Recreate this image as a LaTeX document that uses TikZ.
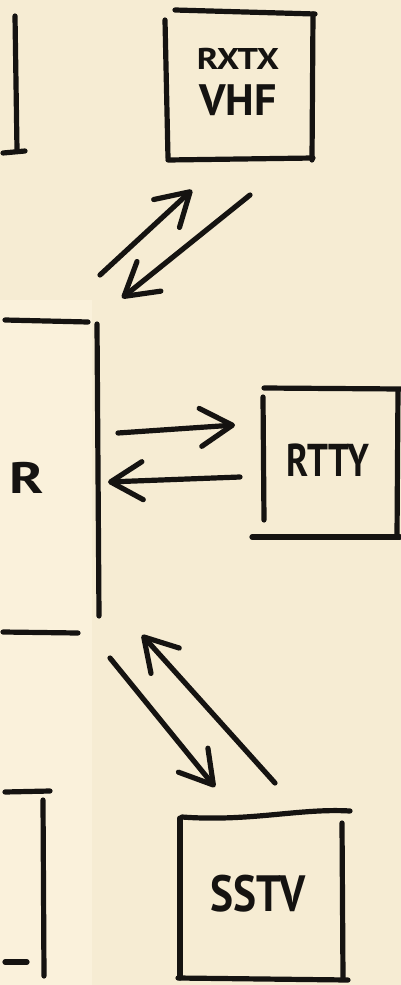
\documentclass[tikz,border=0pt]{standalone}
\usepackage{fontspec}
\setmainfont{PT Sans}
\usetikzlibrary{arrows.meta}
\definecolor{paper}{HTML}{F6ECD3}
\definecolor{paperlight}{HTML}{FAF1DB}
\definecolor{ink}{HTML}{151311}
\tikzset{
  ink/.style={draw=ink, line width=5.2pt, line cap=round, line join=round},
  arr/.style={ink, -{Straight Barb[length=32pt,width=38pt,round]}},
  lbl/.style={text=ink, font=\bfseries, inner sep=0pt}
}
\begin{document}
\begin{tikzpicture}[x=1pt,y=-1pt]
\useasboundingbox (0,0) rectangle (401,985);
\fill[paper] (0,0) rectangle (401,985);
\fill[paperlight] (0,300) rectangle (92,985);

% top-left box fragment
\draw[ink] (15,16) -- (17,150);
\draw[ink] (3,153) -- (25,151);

% left big box (partial)
\node[lbl, font=\bfseries\fontsize{44}{44}\selectfont] (comp) at (27,478) {\scalebox{1.3}[1]{R}};
\draw[ink] (5,320) -- (88,322);
\draw[ink] (97,324) -- (99,616);
\draw[ink] (3,632) -- (78,633);

% bottom-left box fragment
\draw[ink] (5,792) -- (50,791);
\draw[ink] (43,800) -- (44,976);
\draw[ink] (5,962) -- (27,962);

% RXTX VHF box
\node[lbl, align=center] (vhf) at (238,82)
  {\fontsize{30}{30}\selectfont\scalebox{1.2}[1]{RXTX}\\[14pt]\fontsize{44}{44}\selectfont VHF};
\draw[ink] (175,10) -- (315,14);
\draw[ink] (165,20) -- (168,158);
\draw[ink] (168,160) -- (313,158);
\draw[ink] (313,14) -- (312,160);

% RTTY box
\node[lbl, font=\bfseries\fontsize{46}{46}\selectfont] (rtty) at (328,460) {\scalebox{0.8}[1]{RTTY}};
\draw[ink] (264,388) -- (401,389);
\draw[ink] (263,397) -- (264,520);
\draw[ink] (252,537) -- (400,537);
\draw[ink] (398,390) -- (397,537);

% SSTV box
\node[lbl, font=\bfseries\fontsize{51}{51}\selectfont] (sstv) at (258,894) {\scalebox{0.85}[1]{SSTV}};
\draw[ink] (182,817) .. controls (250,822) and (300,808) .. (350,811);
\draw[ink] (180,818) -- (180,978);
\draw[ink] (342,823) -- (343,978);
\draw[ink] (178,978) -- (348,980);

% arrow end points
\coordinate (a1s) at (100,275); \coordinate (a1e) at (192,190);
\coordinate (a2s) at (250,195); \coordinate (a2e) at (122,298);
\coordinate (a3s) at (118,433); \coordinate (a3e) at (235,425);
\coordinate (a4s) at (240,477); \coordinate (a4e) at (108,482);
\coordinate (a5s) at (275,783); \coordinate (a5e) at (142,635);
\coordinate (a6s) at (110,658); \coordinate (a6e) at (215,787);

\draw[arr] (a1s) -- (a1e);
\draw[arr] (a2s) -- (a2e);
\draw[arr] (a3s) -- (a3e);
\draw[arr] (a4s) -- (a4e);
\draw[arr] (a5s) -- (a5e);
\draw[arr] (a6s) -- (a6e);
\end{tikzpicture}
\end{document}
